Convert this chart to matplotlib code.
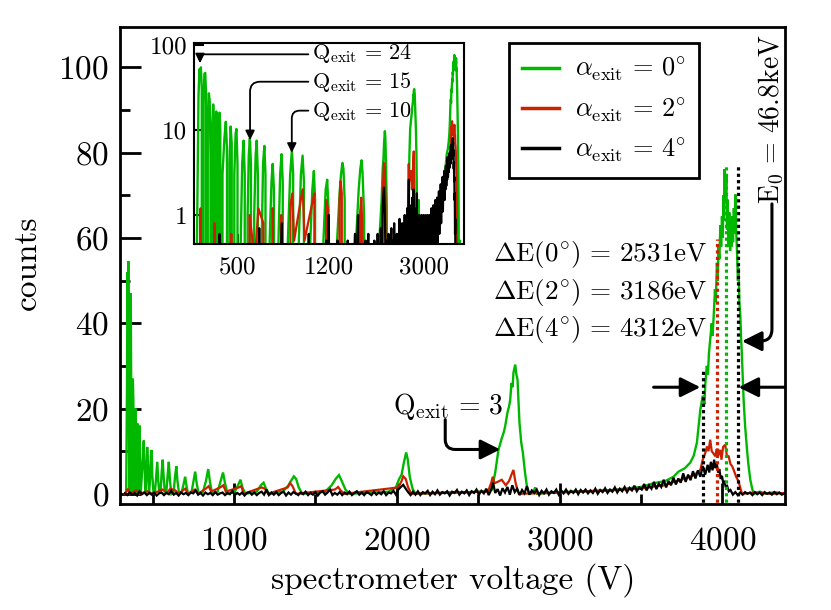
import matplotlib
matplotlib.use('Agg')
import matplotlib.pyplot as plt
from matplotlib.lines import Line2D
from matplotlib.ticker import MultipleLocator, FixedLocator, FixedFormatter, NullLocator

plt.rcParams['font.family'] = 'serif'
plt.rcParams['font.serif'] = ['cmr10']
plt.rcParams['mathtext.fontset'] = 'cm'
plt.rcParams['axes.unicode_minus'] = False
plt.rcParams['axes.formatter.use_mathtext'] = True

# ---------------- data (spectrometer voltage [V], counts) ----------------
green_data = [
    (330, 0), (338, 0.5), (343, 25), (346, 52), (349, 40), (351, 54.6), (354, 30), (357, 0),
    (360, 20), (363, 46), (366, 47), (369, 25), (372, 0), (375, 10), (379, 27), (382, 22), (385, 5), (388, 0),
    (392, 12), (395, 20), (398, 14), (401, 0), (404, 9), (407, 16.5), (410, 12), (413, 0),
    (417, 8), (420, 16), (423, 10), (427, 0), (432, 3), (440, 8), (446, 12.5), (451, 6), (457, 0),
    (462, 4), (467, 11), (472, 7), (478, 0), (484, 3), (490, 9), (494, 10.3), (499, 4), (506, 0),
    (515, 0.5), (522, 4), (529, 7.5), (535, 3), (542, 0), (550, 1), (556, 5), (562, 8), (568, 4), (576, 0),
    (586, 1), (594, 5), (600, 7.5), (607, 3), (616, 0), (630, 0.5), (638, 4), (646, 6.5), (653, 3), (663, 0),
    (680, 0.5), (692, 2.5), (700, 4), (708, 2), (718, 0), (740, 0.5), (752, 3), (762, 5.2), (771, 2.5), (783, 0),
    (810, 0.5), (828, 3), (842, 5.8), (852, 3), (866, 0), (900, 0.5), (918, 3), (933, 5), (945, 2.5), (960, 0),
    (1005, 0.5), (1025, 2), (1040, 3.3), (1052, 1.5), (1070, 0), (1140, 0.5), (1165, 2), (1182, 2.6), (1197, 1.2), (1215, 0),
    (1300, 0.5), (1335, 2), (1350, 3), (1368, 4.1), (1382, 3.5), (1398, 1.5), (1420, 0),
    (1560, 0.5), (1600, 2), (1625, 3.5), (1645, 4.4), (1660, 3.2), (1685, 1), (1710, 0),
    (1950, 0.5), (1995, 1.5), (2015, 3.5), (2030, 4.5), (2042, 7), (2058, 9.7), (2068, 8), (2080, 4), (2097, 1.2), (2115, 0),
    (2300, 0.3), (2450, 0.4), (2550, 0.6), (2585, 1), (2605, 5), (2625, 10.3), (2645, 13), (2658, 14.5), (2666, 15.8),
    (2680, 19), (2690, 20.5), (2697, 22), (2705, 26), (2712, 25), (2717, 28.4), (2728, 30.3), (2735, 28), (2742, 26.8),
    (2748, 22), (2754, 16.7), (2765, 12), (2775, 9.6), (2788, 5), (2800, 1.7), (2812, 0),
    (2840, 0.3), (2850, 1.5), (2862, 0), (3000, 0.4), (3150, 0.6), (3300, 0.8), (3400, 1.2), (3500, 1.6), (3580, 2.5),
    (3650, 3), (3700, 4), (3731, 5.2), (3770, 6), (3803, 7.3), (3825, 9), (3844, 12), (3855, 16), (3865, 19.7),
    (3880, 23), (3890, 21), (3896, 26), (3905, 30), (3912, 28), (3918, 33), (3926, 36.2), (3935, 40), (3940, 37),
    (3947, 41.6), (3955, 48), (3960, 45), (3967, 54.2), (3972, 50), (3977, 58), (3982, 55), (3988, 63), (3993, 58),
    (3998, 65.1), (4003, 60), (4007, 70), (4010, 64), (4013, 76.1), (4018, 68), (4022, 72), (4025, 74.5), (4029, 62),
    (4033, 69), (4038, 58), (4043, 66), (4048, 57), (4053, 64), (4057, 58), (4061, 65.1), (4066, 59), (4071, 67),
    (4076, 61), (4080, 70.2), (4085, 62), (4090, 57.3), (4096, 50), (4100, 53), (4105, 45), (4111, 41.6), (4116, 36),
    (4120, 33), (4125, 28), (4131, 22), (4140, 16), (4152, 10.3), (4160, 7), (4172, 3.3), (4185, 1), (4193, 0),
    (4230, 0.5), (4270, 0), (4320, 0.4), (4385, 0),
]

red_data = [
    (330, 0), (350, 1.2), (360, 0), (400, 0.8), (420, 0), (470, 0.6), (500, 0), (560, 1), (590, 0.3), (610, 1.2),
    (640, 0.8), (660, 0), (700, 1.2), (720, 0), (760, 1), (780, 0), (830, 1.3), (845, 1.8), (860, 0.5), (920, 1.6),
    (935, 2), (950, 0.5), (1030, 1.5), (1045, 1.8), (1060, 0), (1170, 1.5), (1190, 1.2), (1210, 0), (1330, 1.5),
    (1345, 2.5), (1360, 1.8), (1380, 0), (1620, 1), (1640, 1.6), (1655, 0.8), (1680, 0), (2010, 1.5), (2030, 3),
    (2040, 4.1), (2055, 3.5), (2070, 1.5), (2090, 0), (2560, 0.5), (2580, 2.5), (2590, 4), (2600, 2.5), (2620, 2.8),
    (2645, 3.3), (2670, 2), (2690, 3), (2705, 4.5), (2717, 5.6), (2728, 3), (2740, 1), (2750, 0), (3000, 0.3),
    (3300, 0.8), (3500, 1.2), (3600, 1.8), (3650, 2), (3700, 2.8), (3750, 3.3), (3800, 4), (3830, 4.5), (3865, 5.6),
    (3880, 8), (3895, 9.5), (3906, 11.1), (3915, 10), (3926, 12.7), (3935, 10), (3945, 9.5), (3957, 8.8), (3965, 10.5),
    (3975, 9), (3988, 10.3), (3995, 8), (4005, 11), (4018, 11.5), (4028, 9), (4039, 8.8), (4050, 7), (4060, 6.5),
    (4070, 5.6), (4085, 4), (4100, 2.9), (4110, 1.5), (4121, 0), (4200, 0.3), (4300, 0), (4385, 0.2),
]

black_data = [
    (330, 0.1), (345, -0.3), (360, 0.3), (375, -0.2), (390, 0.2), (405, -0.4), (420, 0.6), (435, -0.1), (450, 0.3),
    (465, -0.3), (480, 0.2), (495, -0.2), (510, 0.3), (525, -0.4), (540, 0.1), (555, 0.3), (570, -0.3), (585, 0.2),
    (600, -0.1), (615, 0.7), (630, -0.2), (645, 0.2), (660, -0.4), (675, 0.3), (690, -0.1), (705, 0.2), (720, -0.3),
    (735, 0.3), (750, 0.1), (765, 0.8), (780, -0.2), (795, 0.2), (810, -0.4), (825, 0.3), (840, -0.1), (855, 0.2),
    (870, -0.3), (885, 0.4), (900, -0.2), (915, 0.1), (930, 0.3), (945, -0.3), (960, 0.2), (975, -0.1), (990, 0.6),
    (1005, -0.3), (1020, 0.2), (1035, -0.2), (1050, 0.3), (1065, -0.4), (1080, 0.2), (1095, 0.4), (1110, -0.2),
    (1125, 0.3), (1140, -0.3), (1155, 0.2), (1170, 0.5), (1185, -0.2), (1200, 1.0), (1215, -0.3), (1230, 0.3),
    (1245, -0.2), (1260, 0.4), (1275, -0.3), (1290, 0.2), (1305, 0.5), (1320, -0.4), (1335, 0.3), (1350, -0.2),
    (1365, 0.4), (1380, 0.1), (1395, -0.3), (1410, 0.3), (1425, -0.1), (1440, 0.5), (1455, -0.3), (1470, 0.2),
    (1485, -0.2), (1500, 0.4), (1515, -0.4), (1530, 0.3), (1545, 0.6), (1560, -0.2), (1575, 0.3), (1590, 1.0),
    (1605, -0.3), (1620, 0.2), (1635, -0.2), (1650, 0.4), (1665, -0.3), (1680, 0.3), (1695, -0.1), (1710, 0.5),
    (1725, -0.3), (1740, 0.2), (1755, 0.6), (1770, -0.2), (1785, 0.3), (1800, -0.3), (1815, 0.4), (1830, 0.1),
    (1845, -0.3), (1860, 0.5), (1875, -0.2), (1890, 0.3), (1905, -0.1), (1920, 0.6), (1935, -0.3), (1950, 0.3),
    (1965, 0.1), (1980, 0.7), (1995, -0.2), (2010, 1.0), (2025, 1.6), (2040, 2.1), (2055, 1.2), (2070, 0.4),
    (2085, -0.3), (2100, 0.5), (2115, -0.2), (2130, 0.6), (2145, -0.3), (2160, 0.4), (2175, 0.1), (2190, 0.7),
    (2205, -0.3), (2220, 0.5), (2235, -0.1), (2250, 0.8), (2265, -0.2), (2280, 0.4), (2295, 0.1), (2310, 0.6),
    (2325, -0.4), (2340, 0.5), (2355, 0.2), (2370, 0.9), (2385, -0.2), (2400, 0.5), (2415, 0.1), (2430, 0.8),
    (2445, -0.3), (2460, 0.6), (2475, 0.2), (2490, 1.0), (2505, -0.2), (2520, 0.7), (2535, 0.1), (2550, 1.2),
    (2565, -0.3), (2580, 0.9), (2592, 2.6), (2605, 0.2), (2620, 1.1), (2635, -0.4), (2650, 1.3), (2665, 0.3),
    (2680, 1.6), (2695, -0.2), (2710, 2.0), (2725, 0.4), (2740, 1.2), (2755, -0.3), (2770, 0.9), (2785, 0.1),
    (2800, 1.8), (2815, -0.2), (2830, 0.8), (2845, 0.2), (2860, 1.0), (2875, -0.3), (2890, 0.7), (2905, 0.1),
    (2920, 1.0), (2935, -0.2), (2950, 0.6), (2965, 0.2), (2980, 1.0), (2995, -0.2), (3010, 0.8), (3025, 0.1),
    (3040, 1.0), (3055, 0.0), (3070, 0.7), (3085, 0.2), (3100, 1.0), (3115, -0.1), (3130, 0.9), (3145, 0.3),
    (3160, 1.0), (3175, 0.1), (3190, 0.8), (3205, 0.2), (3220, 1.2), (3235, 0.0), (3250, 0.9), (3265, 0.4),
    (3280, 1.3), (3295, 0.2), (3310, 1.0), (3325, 0.5), (3340, 1.5), (3355, 0.3), (3370, 1.2), (3385, 0.6),
    (3400, 1.6), (3415, 0.4), (3430, 1.4), (3445, 0.8), (3460, 1.9), (3475, 0.6), (3490, 1.5), (3505, 1.0),
    (3520, 2.3), (3535, 0.8), (3550, 2.0), (3565, 1.2), (3580, 2.8), (3595, 1.1), (3610, 2.4), (3625, 1.6),
    (3640, 3.3), (3655, 1.5), (3670, 3.0), (3685, 2.0), (3700, 3.8), (3715, 2.2), (3730, 3.6), (3745, 2.6),
    (3760, 4.8), (3775, 2.8), (3790, 4.5), (3805, 3.2), (3820, 5.3), (3835, 3.6), (3850, 5.5), (3865, 4.0),
    (3880, 6.5), (3895, 4.5), (3910, 6.8), (3920, 5.0), (3930, 7.5), (3940, 5.5), (3950, 8.0), (3958, 6.0),
    (3966, 7.2), (3974, 5.0), (3982, 5.8), (3990, 3.5), (3998, 4.2), (4006, 2.5), (4014, 2.8), (4022, 1.5),
    (4030, 1.8), (4040, 0.6), (4050, 0.9), (4065, -0.2), (4080, 0.4), (4095, -0.3), (4110, 0.3), (4125, -0.2),
    (4140, 0.4), (4155, 0.0), (4170, 0.3), (4185, -0.3), (4200, 0.4), (4215, -0.1), (4230, 0.3), (4245, -0.3),
    (4260, 0.4), (4275, 0.0), (4290, 0.3), (4305, -0.2), (4320, 0.4), (4335, -0.1), (4350, 0.3), (4365, -0.2),
    (4385, 0.1),
]

series_colors = ['#00b800', '#cc2000', '#000000']
legend_labels = [r'$\alpha_{\mathrm{exit}}\,=\,0^{\circ}$',
                 r'$\alpha_{\mathrm{exit}}\,=\,2^{\circ}$',
                 r'$\alpha_{\mathrm{exit}}\,=\,4^{\circ}$']

# dotted width markers: voltage, top (counts), colour
marker_v = [3879, 3967, 4025, 4094]
marker_top = [29.5, 59.8, 77.3, 77.3]
marker_col = ['#000000', '#cc2000', '#00b800', '#000000']

delta_e_labels = [r'$\Delta\mathrm{E}(0^{\circ})\,=\,2531\mathrm{eV}$',
                  r'$\Delta\mathrm{E}(2^{\circ})\,=\,3186\mathrm{eV}$',
                  r'$\Delta\mathrm{E}(4^{\circ})\,=\,4312\mathrm{eV}$']
delta_e_y = [54.6, 45.6, 37.0]

inset_labels = [r'$\mathrm{Q}_{\mathrm{exit}}\,=\,24$',
                r'$\mathrm{Q}_{\mathrm{exit}}\,=\,15$',
                r'$\mathrm{Q}_{\mathrm{exit}}\,=\,10$']
inset_label_y = [0.924, 0.776, 0.634]
inset_arrow_start = [(986, 77.7), (986, 37.0), (986, 16.9)]
inset_arrow_tip = [(348, 61.0), (563, 7.6), (841, 5.4)]

series = [green_data, red_data, black_data]
series_lw = [1.7, 1.6, 1.6]

# ---------------- figure ----------------
fig = plt.figure(figsize=(8.31, 6.10), dpi=100)
ax = fig.add_axes([0.1444, 0.1730, 0.8002, 0.7828])

for data, col, lw in zip(series, series_colors, series_lw):
    v = [p[0] for p in data]
    c = [p[1] for p in data]
    ax.plot(v, c, color=col, lw=lw, solid_joinstyle='miter')

for xv, top, col in zip(marker_v, marker_top, marker_col):
    ax.plot([xv, xv], [-5, top], color=col, lw=2.3, ls=(0, (1, 1.0)))

ax.set_xlim(300, 4385)
ax.set_ylim(-2.5, 109.5)
ax.xaxis.set_major_locator(MultipleLocator(1000))
ax.xaxis.set_minor_locator(MultipleLocator(500))
ax.yaxis.set_major_locator(MultipleLocator(20))
ax.yaxis.set_minor_locator(MultipleLocator(10))
ax.tick_params(which='both', direction='in', top=False, right=False, width=2, labelsize=24)
ax.tick_params(which='major', length=15)
ax.tick_params(which='minor', length=7.5)
ax.tick_params(axis='x', which='both', pad=16)
ax.tick_params(axis='y', which='both', pad=8)
for s in ax.spines.values():
    s.set_linewidth(2)

fig.text(27 / 831, 1 - 263 / 610, 'counts', rotation=90, ha='center', va='center', fontsize=24)
fig.text(453 / 831, 1 - 580 / 610, 'spectrometer voltage (V)', ha='center', va='center', fontsize=24)

# legend
handles = [Line2D([], [], color=col, lw=2.5) for col in series_colors]
leg = ax.legend(handles, legend_labels, loc='upper right', bbox_to_anchor=(0.8707, 0.967),
                borderaxespad=0, fontsize=19, frameon=True, fancybox=False, edgecolor='k',
                framealpha=1, handlelength=1.4, handletextpad=0.6, labelspacing=0.45, borderpad=0.5)
leg.get_frame().set_linewidth(2)

# texts
for lab, yv in zip(delta_e_labels, delta_e_y):
    ax.text(2593, yv, lab, fontsize=19.5, ha='left', va='baseline')
ax.text(4301, 87.9, r'$\mathrm{E}_0\,=\,46.8\mathrm{keV}$', rotation=90, fontsize=20,
        ha='center', va='center')
ax.text(1978, 18.7, r'$\mathrm{Q}_{\mathrm{exit}}\,=\,3$', fontsize=20, ha='left', va='baseline')

big_arrow = dict(arrowstyle='-|>,head_length=1.2,head_width=0.6', mutation_scale=10, lw=2.2,
                 color='k', shrinkA=0, shrinkB=0)
ax.annotate('', xy=(3865, 25), xytext=(3578, 25), arrowprops=big_arrow)
ax.annotate('', xy=(4100, 25), xytext=(4385, 25), arrowprops=big_arrow, annotation_clip=False)
ax.annotate('', xy=(4121, 35.8), xytext=(4305, 68),
            arrowprops=dict(big_arrow, connectionstyle='angle,angleA=90,angleB=0,rad=12'))
ax.annotate('', xy=(2636, 10.4), xytext=(2298, 17.4),
            arrowprops=dict(big_arrow, connectionstyle='angle,angleA=90,angleB=0,rad=10'))

# ---------------- inset ----------------
axi = fig.add_axes([0.2335, 0.6, 0.3249, 0.329])
for data, col, lw in zip(series, series_colors, series_lw):
    v = [p[0] for p in data]
    c = [p[1] for p in data]
    axi.plot(v, c, color=col, lw=lw)
axi.set_xscale('log')
axi.set_yscale('log')
axi.set_xlim(328.6, 4405)
axi.set_ylim(0.456, 104.7)
axi.xaxis.set_major_locator(FixedLocator([500, 1200, 3000]))
axi.xaxis.set_major_formatter(FixedFormatter(['500', '1200', '3000']))
axi.xaxis.set_minor_locator(NullLocator())
axi.yaxis.set_major_locator(FixedLocator([1, 10, 100]))
axi.yaxis.set_major_formatter(FixedFormatter(['1', '10', '100']))
axi.yaxis.set_minor_locator(NullLocator())
axi.tick_params(direction='in', length=7, width=1.5, labelsize=18, top=False, right=False)
axi.tick_params(axis='x', pad=9)
axi.tick_params(axis='y', pad=5)
for s in axi.spines.values():
    s.set_linewidth(1.5)

small_arrow = dict(arrowstyle='-|>,head_length=0.55,head_width=0.27', mutation_scale=10, lw=1.3,
                   color='k', shrinkA=0, shrinkB=0)
for lab, yf, st, tip, rad in zip(inset_labels, inset_label_y, inset_arrow_start, inset_arrow_tip, [4, 10, 8]):
    axi.text(0.436, yf, lab, transform=axi.transAxes, fontsize=16, ha='left', va='baseline')
    axi.annotate('', xy=tip, xytext=st,
                 arrowprops=dict(small_arrow, connectionstyle='angle,angleA=0,angleB=90,rad=%d' % rad))

fig.savefig('out.png', dpi=100)
